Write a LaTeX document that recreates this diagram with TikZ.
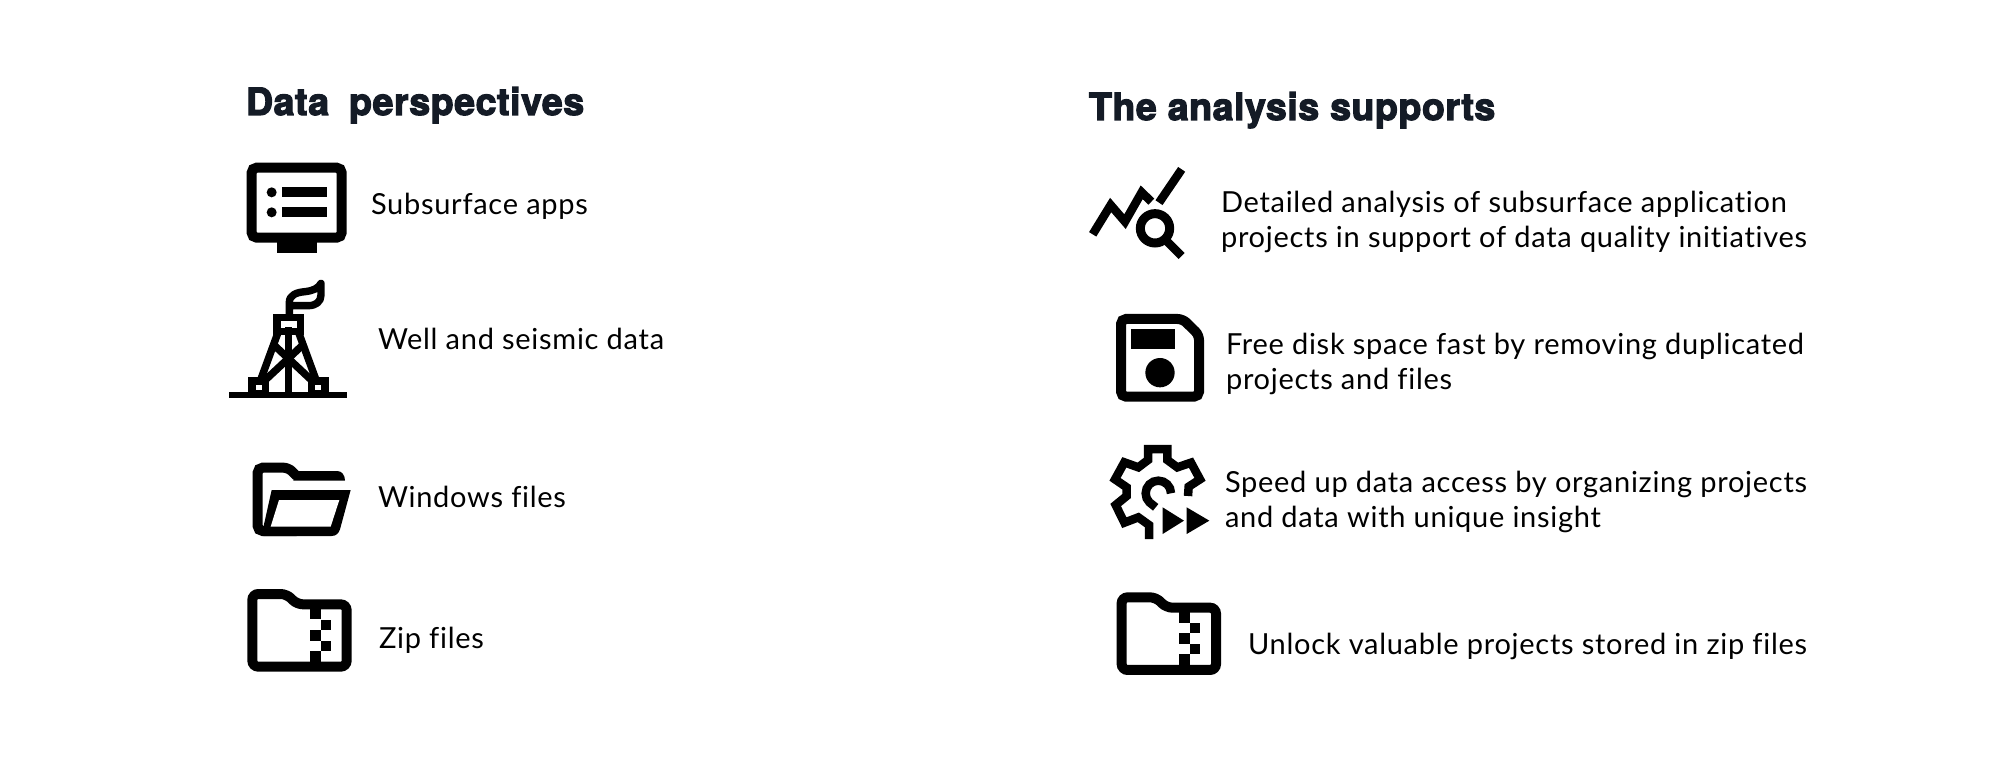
\documentclass[tikz,border=0pt]{standalone}
\usepackage{fontspec}
\setmainfont{Lato}[LetterSpace=2.5,Ligatures=NoCommon]
\newfontfamily\titlefont{TeX Gyre Heros}[FakeBold=3.2,LetterSpace=1.5]
\tikzset{
  body/.style={inner sep=0pt,outer sep=0pt,text=black,align=left,font=\fontsize{29}{34.5}\selectfont},
  heading/.style={inner sep=0pt,outer sep=0pt,anchor=base west,text=titleink,font=\titlefont\bfseries\fontsize{37.5}{42}\selectfont},
  ico/.style={line width=10pt,draw=black,line join=miter},
  thin/.style={line width=7.4pt,draw=black},
  zoomfrom/.style 2 args={shift={(#1,#2)},scale=1/3}
}
\definecolor{titleink}{HTML}{141B26}
\newcommand{\zipicon}[2]{%
\begin{scope}[zoomfrom={#1}{#2}]
  \draw[ico,rounded corners=6pt] (67,462) -- (170,462) -- (201,493) -- (350,493) -- (350,680) -- (67,680) -- cycle;
  \fill (240,500) rectangle (272,538);
  \fill (272,540) rectangle (302,570);
  \fill (240,570) rectangle (272,602);
  \fill (272,602) rectangle (302,632);
  \fill (240,632) rectangle (272,680);
\end{scope}}
\begin{document}
\begin{tikzpicture}[x=1pt,y=-1pt]
\useasboundingbox (0,0) rectangle (2000,781);
\fill[white] (0,0) rectangle (2000,781);
% headings
\node[heading] (t1) at (246,115) {Data\hspace{9pt} perspectives};
\node[heading] (t2) at (1089,120) {The analysis supports};
% left labels
\node[body,anchor=base west] (l1) at (371,214) {Subsurface apps};
\node[body,anchor=base west] (l2) at (378,349) {Well and seismic data};
\node[body,anchor=base west] (l3) at (378,507) {Windows files};
\node[body,anchor=base west] (l4) at (379,648) {Zip files};
% right labels
\node[body,anchor=west] (r1) at (1221,222) {Detailed analysis of subsurface application\\projects in support of data quality initiatives};
\node[body,anchor=west] (r2) at (1226,364) {Free disk space fast by removing duplicated\\projects and files};
\node[body,anchor=west] (r3) at (1225,502) {Speed up data access by organizing projects\\and data with unique insight};
\node[body,anchor=base west] (r4) at (1248,654) {Unlock valuable projects stored in zip files};
% monitor
\begin{scope}[zoomfrom={210}{140}]
  \draw[ico,rounded corners=5pt] (125,83) rectangle (395,293);
  \fill (200,300) rectangle (320,338);
  \fill (185,157) circle (15);
  \fill (185,217) circle (15);
  \fill (216,142) rectangle (350,172);
  \fill (216,202) rectangle (350,232);
  % rig
  \fill (58,755) rectangle (412,775);
  \draw[thin] (201,533) rectangle (271,575);
  \draw[thin] (205,575) -- (150,725);
  \draw[thin] (265,575) -- (320,725);
  \fill (225,560) rectangle (247,760);
  \draw[thin] (195,618) -- (320,735);
  \draw[thin] (275,618) -- (150,735);
  \draw[thin,fill=white] (126,723) rectangle (167,760);
  \draw[thin,fill=white] (304,723) rectangle (345,760);
  \draw[thin,line join=round] (238,525) -- (238,487) .. controls (238,465) and (260,457) .. (285,455) .. controls (310,452) and (325,445) .. (333,430) -- (333,465) .. controls (333,485) and (318,497) .. (295,497) -- (245,497);
\end{scope}
% open folder
\begin{scope}[zoomfrom={230}{440}]
  \draw[ico,rounded corners=5pt] (200,108) -- (175,83) -- (83,83) -- (83,273) -- (200,273);
  \fill (190,93) -- (322,93) .. controls (335,93) and (345,105) .. (345,122) -- (190,122) -- cycle;
  \fill (125,150) -- (362,150) -- (330,268) .. controls (326,280) and (318,288) .. (305,288) -- (100,288) -- (100,262) -- cycle;
  \fill[white] (147,180) -- (328,180) -- (302,260) -- (122,260) -- cycle;
\end{scope}
\zipicon{230}{440}
% analysis
\begin{scope}[zoomfrom={1080}{150}]
  \draw[line width=8.5pt] (38,253) -- (92,165) -- (135,215) -- (185,127) -- (214,155);
  \draw[line width=8.5pt] (237,158) -- (305,58);
  \draw[line width=9pt] (225,235) circle (44);
  \draw[line width=8.5pt] (262,275) -- (305,318);
  % floppy
  \draw[ico,rounded corners=5pt] (123,507) -- (308,507) -- (357,555) -- (357,740) -- (123,740) -- cycle;
  \fill (152,538) rectangle (284,596);
  \fill (240,668) circle (44);
\end{scope}
% gear
\begin{scope}[zoomfrom={1090}{430}]
  \draw[line width=8.5pt] (294,198) -- (296,170) -- (330,148) -- (303,98) -- (262,112) -- (232,90) -- (232,57) -- (174,57) -- (174,90) -- (145,112) -- (103,97) -- (75,148) -- (110,172) -- (110,198) -- (77,225) -- (103,278) -- (145,262) -- (177,285) -- (177,327);
  \draw[line width=8.5pt] (243,190) arc (0:-225:38) -- (197,232);
  \fill (218,232) -- (218,312) -- (282,272) -- cycle;
  \fill (290,232) -- (290,312) -- (358,272) -- cycle;
\end{scope}
\zipicon{1099.33}{443.33}
\end{tikzpicture}
\end{document}
